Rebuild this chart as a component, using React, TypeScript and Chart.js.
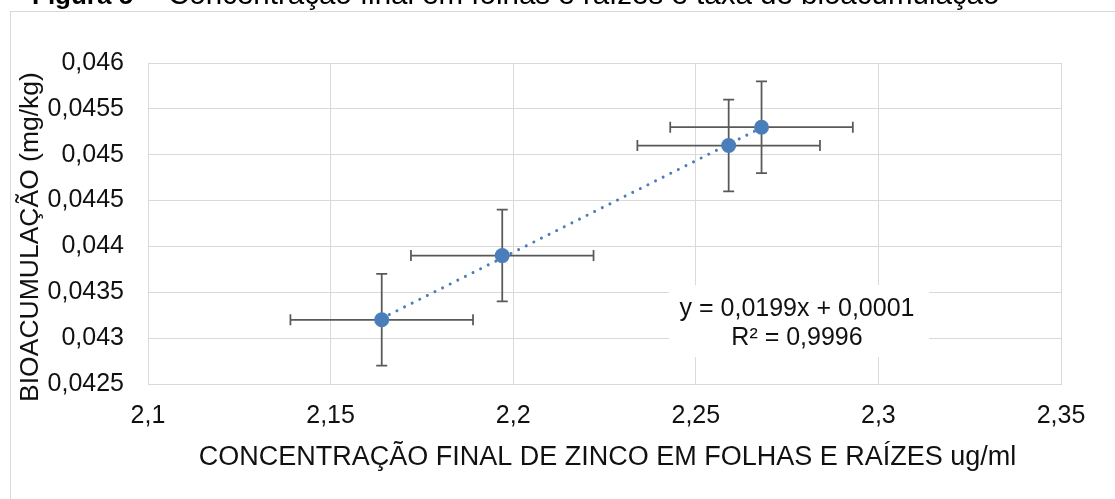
import React, { useEffect, useRef } from 'react';
import { Chart, registerables } from 'chart.js';

Chart.register(...registerables);

const concentration = [2.164, 2.197, 2.259, 2.268];
const bioaccumulation = [0.0432, 0.0439, 0.0451, 0.0453];
const concentrationError = [0.025, 0.025, 0.025, 0.025];
const bioaccumulationError = [0.0005, 0.0005, 0.0005, 0.0005];
const xTickValues = [2.1, 2.15, 2.2, 2.25, 2.3, 2.35];
const xTickLabels = ['2,1', '2,15', '2,2', '2,25', '2,3', '2,35'];
const yTickValues = [0.0425, 0.043, 0.0435, 0.044, 0.0445, 0.045, 0.0455, 0.046];
const yTickLabels = ['0,0425', '0,043', '0,0435', '0,044', '0,0445', '0,045', '0,0455', '0,046'];
const equationLines = ['y = 0,0199x + 0,0001', 'R² = 0,9996'];
const figureLabel = 'Figura 5';
const figureTitle = '- Concentração final em folhas e raízes e taxa de bioacumulação';
const xAxisTitle = 'CONCENTRAÇÃO FINAL DE ZINCO EM FOLHAS E RAÍZES ug/ml';
const yAxisTitle = 'BIOACUMULAÇÃO (mg/kg)';

const FONT = '"Liberation Sans", Arial, Helvetica, sans-serif';
const MARKER = '#4a7ebb';
const GRID = '#d9d9d9';
const ERRBAR = '#595959';

function linearFit(xs: number[], ys: number[]) {
  const n = xs.length;
  const mx = xs.reduce((a, b) => a + b, 0) / n;
  const my = ys.reduce((a, b) => a + b, 0) / n;
  let sxy = 0;
  let sxx = 0;
  for (let i = 0; i < n; i++) {
    sxy += (xs[i] - mx) * (ys[i] - my);
    sxx += (xs[i] - mx) * (xs[i] - mx);
  }
  const slope = sxy / sxx;
  return { slope, intercept: my - slope * mx };
}

const fit = linearFit(concentration, bioaccumulation);
const xMin = Math.min(...concentration);
const xMax = Math.max(...concentration);
const trendPoints = [
  { x: xMin, y: fit.slope * xMin + fit.intercept },
  { x: xMax, y: fit.slope * xMax + fit.intercept },
];

const errorBarPlugin = {
  id: 'errorBars',
  beforeDatasetsDraw(chart: any) {
    const { ctx, scales } = chart;
    const xs = scales.x;
    const ys = scales.y;
    const cap = 5.5;
    ctx.save();
    ctx.strokeStyle = ERRBAR;
    ctx.lineWidth = 1.75;
    for (let i = 0; i < concentration.length; i++) {
      const px = xs.getPixelForValue(concentration[i]);
      const py = ys.getPixelForValue(bioaccumulation[i]);
      const xl = xs.getPixelForValue(concentration[i] - concentrationError[i]);
      const xr = xs.getPixelForValue(concentration[i] + concentrationError[i]);
      const yt = ys.getPixelForValue(bioaccumulation[i] + bioaccumulationError[i]);
      const yb = ys.getPixelForValue(bioaccumulation[i] - bioaccumulationError[i]);
      ctx.beginPath();
      ctx.moveTo(xl, py);
      ctx.lineTo(xr, py);
      ctx.moveTo(xl, py - cap);
      ctx.lineTo(xl, py + cap);
      ctx.moveTo(xr, py - cap);
      ctx.lineTo(xr, py + cap);
      ctx.moveTo(px, yt);
      ctx.lineTo(px, yb);
      ctx.moveTo(px - cap, yt);
      ctx.lineTo(px + cap, yt);
      ctx.moveTo(px - cap, yb);
      ctx.lineTo(px + cap, yb);
      ctx.stroke();
    }
    ctx.restore();
  },
};

const decorPlugin = {
  id: 'decor',
  beforeDraw(chart: any) {
    const { ctx } = chart;
    ctx.save();
    ctx.fillStyle = '#ffffff';
    ctx.fillRect(0, 0, chart.width, chart.height);
    ctx.strokeStyle = GRID;
    ctx.lineWidth = 1;
    ctx.strokeRect(10.5, 11.5, chart.width + 40, chart.height + 40);
    ctx.fillStyle = '#000000';
    ctx.textAlign = 'left';
    ctx.textBaseline = 'alphabetic';
    ctx.font = `bold 26px ${FONT}`;
    ctx.fillText(figureLabel, 32, 4);
    ctx.font = `29.5px ${FONT}`;
    ctx.fillText(figureTitle, 150, 4);
    ctx.restore();
  },
  afterDraw(chart: any) {
    const { ctx, chartArea } = chart;
    ctx.save();
    ctx.fillStyle = '#111111';
    // x axis title
    ctx.font = `27px ${FONT}`;
    ctx.textAlign = 'center';
    ctx.textBaseline = 'alphabetic';
    ctx.fillText(xAxisTitle, (chartArea.left + chartArea.right) / 2 + 3, 465);
    // y axis title (overlapping tick labels, as in the reference)
    ctx.save();
    ctx.font = `26.5px ${FONT}`;
    ctx.translate(37.5, 237);
    ctx.rotate(-Math.PI / 2);
    ctx.fillText(yAxisTitle, 0, 0);
    ctx.restore();
    // trendline equation box
    ctx.fillStyle = '#ffffff';
    ctx.fillRect(669, 285, 260, 72);
    ctx.fillStyle = '#111111';
    ctx.font = `25px ${FONT}`;
    ctx.fillText(equationLines[0], 797, 316);
    ctx.fillText(equationLines[1], 797, 345);
    ctx.restore();
  },
};

export default function App() {
  const canvasRef = useRef<HTMLCanvasElement | null>(null);

  useEffect(() => {
    if (!canvasRef.current) return;
    const chart = new Chart(canvasRef.current, {
      type: 'scatter',
      data: {
        datasets: [
          {
            type: 'scatter',
            label: 'Bioacumulação',
            data: concentration.map((x, i) => ({ x, y: bioaccumulation[i] })),
            backgroundColor: MARKER,
            borderColor: MARKER,
            pointRadius: 7.5,
            pointHoverRadius: 7.5,
            borderWidth: 0,
            order: 1,
          } as any,
          {
            type: 'line',
            label: 'Linear',
            data: trendPoints,
            borderColor: MARKER,
            borderWidth: 3,
            borderDash: [0.01, 8.5],
            borderCapStyle: 'round',
            pointRadius: 0,
            fill: false,
            showLine: true,
            order: 2,
          } as any,
        ],
      },
      options: {
        animation: false,
        responsive: false,
        events: [],
        layout: { padding: { left: 0, top: 63, right: 54, bottom: 0 } },
        plugins: {
          legend: { display: false },
          tooltip: { enabled: false },
          title: { display: false },
        },
        scales: {
          x: {
            type: 'linear',
            min: 2.1,
            max: 2.35,
            afterBuildTicks: (scale: any) => {
              scale.ticks = xTickValues.map((v) => ({ value: v }));
            },
            afterFit: (scale: any) => {
              scale.height = 115;
            },
            grid: { color: GRID, lineWidth: 1, drawTicks: false },
            border: { display: true, color: GRID, width: 1 },
            ticks: {
              padding: 17,
              color: '#111111',
              font: { family: FONT, size: 25 },
              maxRotation: 0,
              autoSkip: false,
              callback: (_v: any, i: number) => xTickLabels[i],
            },
          },
          y: {
            type: 'linear',
            min: 0.0425,
            max: 0.046,
            afterBuildTicks: (scale: any) => {
              scale.ticks = yTickValues.map((v) => ({ value: v }));
            },
            afterFit: (scale: any) => {
              scale.width = 148;
            },
            grid: { color: GRID, lineWidth: 1, drawTicks: false },
            border: { display: true, color: GRID, width: 1 },
            ticks: {
              padding: 24,
              color: '#111111',
              font: { family: FONT, size: 25 },
              autoSkip: false,
              callback: (_v: any, i: number) => yTickLabels[i],
            },
          },
        },
      },
      plugins: [decorPlugin, errorBarPlugin],
    });
    return () => chart.destroy();
  }, []);

  return (
    <div style={{ position: 'absolute', left: 0, top: 0, width: 1115, height: 499, background: '#fff' }}>
      <canvas ref={canvasRef} width={1115} height={499} style={{ display: 'block' }} />
    </div>
  );
}
